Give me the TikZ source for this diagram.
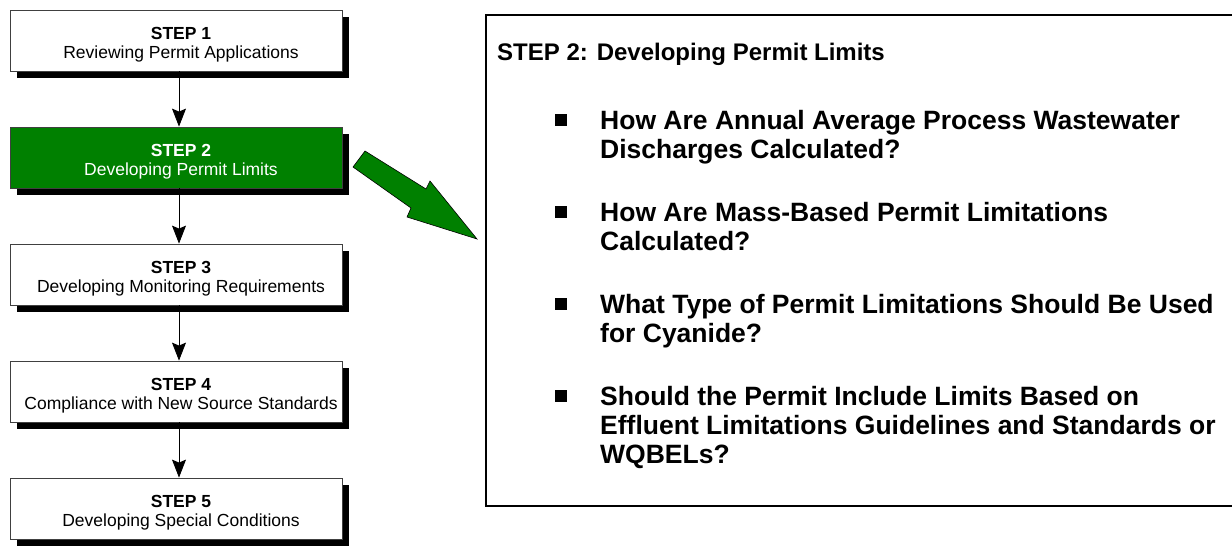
\documentclass[tikz,border=0pt]{standalone}
\usepackage{fontspec}
\setmainfont{Liberation Sans}
\usetikzlibrary{arrows.meta,shadows}
\definecolor{stepgreen}{RGB}{0,128,0}
\begin{document}
\begin{tikzpicture}[x=1pt,y=-1pt,
  stepbox/.style={draw=black!75, line width=0.8pt, fill=white,
    minimum width=332pt, minimum height=61pt, inner sep=0pt,
    drop shadow={shadow xshift=7pt, shadow yshift=-7pt, fill=black, opacity=1}},
  activebox/.style={stepbox, fill=stepgreen},
  steplabel/.style={align=center, inner sep=0pt, font=\fontsize{17.5}{18.7}\selectfont},
  activelabel/.style={steplabel, text=white},
  flowarrow/.style={-{Stealth[length=18pt,width=14pt,inset=3pt]}, line width=0.8pt},
  bigarrow/.style={fill=stepgreen, draw=black, line width=0.6pt},
  panel/.style={draw=black, line width=2.2pt, inner sep=0pt, anchor=north west},
  titletext/.style={anchor=base west, inner sep=0pt, font=\fontsize{24}{28}\selectfont\bfseries},
  bullettext/.style={anchor=base west, inner sep=0pt, font=\fontsize{26.5}{29}\selectfont\bfseries},
  bulletsq/.style={fill=black, minimum size=12pt, inner sep=0pt}
]
\useasboundingbox (0,0) rectangle (1232,547);

% left flow
\node[stepbox] (s1) at (176,40.5) {};
\node[stepbox] (s2) at (176,157.5) {};
\node[stepbox] (s3) at (176,274.5) {};
\node[stepbox] (s4) at (176,391.5) {};
\node[stepbox,activebox] (s2) at (176,157.5) {};
\node[stepbox] (s5) at (176,508.5) {};

\node[steplabel] (s1t) at ([xshift=5pt,yshift=-4pt]s1.center) {\textbf{STEP 1}\\Reviewing Permit Applications};
\node[activelabel] (s2t) at ([xshift=5pt,yshift=-4pt]s2.center) {\textbf{STEP 2}\\Developing Permit Limits};
\node[steplabel] (s3t) at ([xshift=5pt,yshift=-4pt]s3.center) {\textbf{STEP 3}\\Developing Monitoring Requirements};
\node[steplabel] (s4t) at ([xshift=5pt,yshift=-4pt]s4.center) {\textbf{STEP 4}\\Compliance with New Source Standards};
\node[steplabel] (s5t) at ([xshift=5pt,yshift=-4pt]s5.center) {\textbf{STEP 5}\\Developing Special Conditions};

\draw[flowarrow] ([xshift=3pt]s1.south) -- ([xshift=3pt]s2.north);
\draw[flowarrow] ([xshift=3pt]s2.south) -- ([xshift=3pt]s3.north);
\draw[flowarrow] ([xshift=3pt]s3.south) -- ([xshift=3pt]s4.north);
\draw[flowarrow] ([xshift=3pt]s4.south) -- ([xshift=3pt]s5.north);

% big green arrow
\filldraw[bigarrow] (365,151) -- (426,189) -- (430,181) -- (477,239) -- (407,217) -- (411,208) -- (353,167) -- cycle;

% right panel
\node[panel, minimum width=820pt, minimum height=491pt] (panel) at (485,14) {};
\node[titletext] (title) at (497,60) {STEP 2: Developing Permit Limits};

\node[bulletsq] (q1) at (561,120) {};
\node[bullettext] (b1a) at (600,129) {How Are Annual Average Process Wastewater};
\node[bullettext] (b1b) at (600,158) {Discharges Calculated?};

\node[bulletsq] (q2) at (561,212) {};
\node[bullettext] (b2a) at (600,221) {How Are Mass-Based Permit Limitations};
\node[bullettext] (b2b) at (600,250) {Calculated?};

\node[bulletsq] (q3) at (561,304) {};
\node[bullettext] (b3a) at (600,313) {What Type of Permit Limitations Should Be Used};
\node[bullettext] (b3b) at (600,342) {for Cyanide?};

\node[bulletsq] (q4) at (561,396) {};
\node[bullettext] (b4a) at (600,405) {Should the Permit Include Limits Based on};
\node[bullettext] (b4b) at (600,434) {Effluent Limitations Guidelines and Standards or};
\node[bullettext] (b4c) at (600,463) {WQBELs?};
\end{tikzpicture}
\end{document}
